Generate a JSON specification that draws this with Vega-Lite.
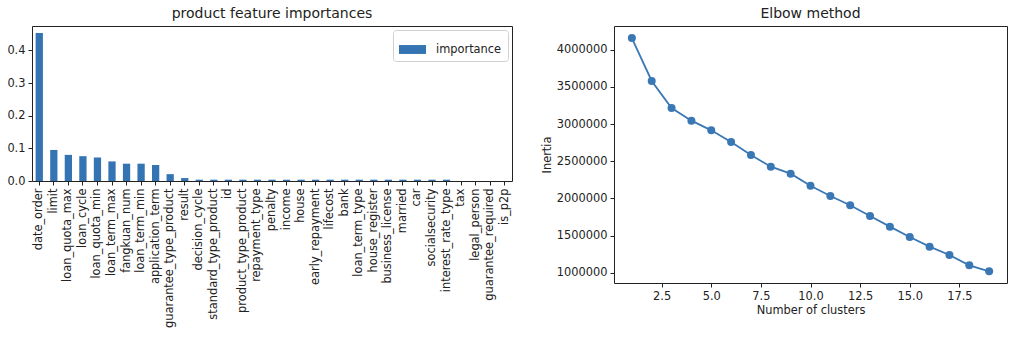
{
  "$schema": "https://vega.github.io/schema/vega-lite/v6.json",
  "padding": {"left": 6, "top": 6, "right": 5, "bottom": 0},
  "spacing": 27,
  "resolve": {"legend": {"color": "independent"}, "scale": {"color": "independent"}},
  "config": {
    "font": "DejaVu Sans",
    "view": {"stroke": "#222", "strokeWidth": 1},
    "axis": {
      "grid": false,
      "domainColor": "#222",
      "tickColor": "#222",
      "tickSize": 4,
      "labelFontSize": 11.4,
      "labelColor": "#222",
      "labelPadding": 3,
      "titleFontSize": 11.4,
      "titleFontWeight": "normal",
      "titleColor": "#222"
    },
    "title": {"fontSize": 14, "fontWeight": "normal", "color": "#222"}
  },
  "datasets": {
    "imp": [
      {"feature": "date_order", "importance": 0.453},
      {"feature": "limit", "importance": 0.095},
      {"feature": "loan_quota_max", "importance": 0.080},
      {"feature": "loan_cycle", "importance": 0.076},
      {"feature": "loan_quota_min", "importance": 0.072},
      {"feature": "loan_term_max", "importance": 0.060},
      {"feature": "fangkuan_num", "importance": 0.053},
      {"feature": "loan_term_min", "importance": 0.053},
      {"feature": "application_term", "importance": 0.049},
      {"feature": "guarantee_type_product", "importance": 0.021},
      {"feature": "result", "importance": 0.009},
      {"feature": "decision_cycle", "importance": 0.004},
      {"feature": "standard_type_product", "importance": 0.004},
      {"feature": "id", "importance": 0.004},
      {"feature": "product_type_product", "importance": 0.004},
      {"feature": "repayment_type", "importance": 0.004},
      {"feature": "penalty", "importance": 0.004},
      {"feature": "income", "importance": 0.004},
      {"feature": "house", "importance": 0.004},
      {"feature": "early_repayment", "importance": 0.004},
      {"feature": "lifecost", "importance": 0.004},
      {"feature": "bank", "importance": 0.004},
      {"feature": "loan_term_type", "importance": 0.004},
      {"feature": "house_register", "importance": 0.004},
      {"feature": "business_license", "importance": 0.004},
      {"feature": "married", "importance": 0.004},
      {"feature": "car", "importance": 0.004},
      {"feature": "socialsecurity", "importance": 0.004},
      {"feature": "interest_rate_type", "importance": 0.004},
      {"feature": "tax", "importance": 0.0},
      {"feature": "legal_person", "importance": 0.0},
      {"feature": "guarantee_required", "importance": 0.0},
      {"feature": "is_p2p", "importance": 0.0}
    ],
    "elbow": [
      {"k": 1, "inertia": 4157000},
      {"k": 2, "inertia": 3579000},
      {"k": 3, "inertia": 3216000},
      {"k": 4, "inertia": 3045000},
      {"k": 5, "inertia": 2915000},
      {"k": 6, "inertia": 2758000},
      {"k": 7, "inertia": 2583000},
      {"k": 8, "inertia": 2426000},
      {"k": 9, "inertia": 2332000},
      {"k": 10, "inertia": 2170000},
      {"k": 11, "inertia": 2032000},
      {"k": 12, "inertia": 1907000},
      {"k": 13, "inertia": 1763000},
      {"k": 14, "inertia": 1619000},
      {"k": 15, "inertia": 1480000},
      {"k": 16, "inertia": 1350000},
      {"k": 17, "inertia": 1238000},
      {"k": 18, "inertia": 1099000},
      {"k": 19, "inertia": 1018000}
    ]
  },
  "hconcat": [
    {
      "title": {"text": "product feature importances", "offset": 5.5},
      "width": 480,
      "height": 155,
      "data": {"name": "imp"},
      "mark": {"type": "bar"},
      "encoding": {
        "x": {
          "field": "feature",
          "type": "nominal",
          "sort": null,
          "scale": {"paddingInner": 0.5, "paddingOuter": 0.25},
          "axis": {"title": null, "labelAngle": -90, "labelOverlap": false, "labelLimit": 300, "domain": false}
        },
        "y": {
          "field": "importance",
          "type": "quantitative",
          "scale": {"domain": [0, 0.4745], "nice": false},
          "axis": {"title": null, "values": [0, 0.1, 0.2, 0.3, 0.4], "format": ".1f", "domain": false}
        },
        "color": {
          "datum": "importance",
          "type": "nominal",
          "scale": {"range": ["#3474b2"]},
          "legend": {
            "title": null,
            "orient": "top-right",
            "offset": 4,
            "strokeColor": "#d0d0d0",
            "fillColor": "white",
            "cornerRadius": 3,
            "padding": 6,
            "labelFontSize": 11.4,
            "labelColor": "#222",
            "labelOffset": 10,
            "symbolType": "M-1,-0.33H1V0.33H-1Z",
            "symbolSize": 729,
            "symbolStrokeWidth": 0
          }
        }
      }
    },
    {
      "title": {"text": "Elbow method", "offset": 5.5},
      "width": 393,
      "height": 257,
      "data": {"name": "elbow"},
      "mark": {"type": "line", "color": "#3a78b5", "strokeWidth": 1.8, "point": {"filled": true, "size": 64, "color": "#3a78b5", "opacity": 1}},
      "encoding": {
        "x": {
          "field": "k",
          "type": "quantitative",
          "scale": {"domain": [0.1, 19.9], "nice": false, "zero": false},
          "axis": {"title": "Number of clusters", "values": [2.5, 5, 7.5, 10, 12.5, 15, 17.5], "format": ".1f", "domain": false, "titlePadding": 3}
        },
        "y": {
          "field": "inertia",
          "type": "quantitative",
          "scale": {"domain": [861000, 4319000], "nice": false, "zero": false},
          "axis": {"title": "Inertia", "values": [1000000, 1500000, 2000000, 2500000, 3000000, 3500000, 4000000], "format": "d", "domain": false, "titlePadding": 4}
        }
      }
    }
  ]
}
